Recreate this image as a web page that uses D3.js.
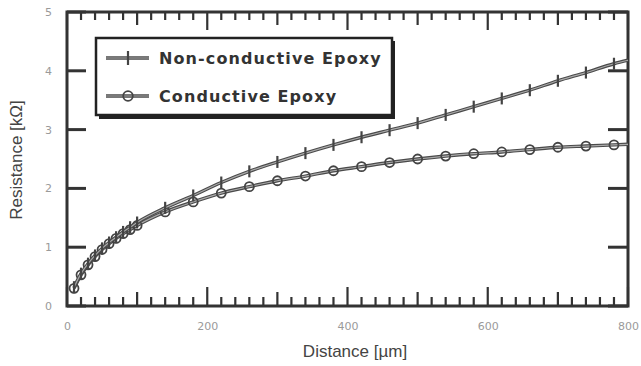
<!DOCTYPE html>
<html>
<head>
<meta charset="utf-8">
<script src="https://cdn.jsdelivr.net/npm/d3@7/dist/d3.min.js"></script>
</head>
<body style="margin:0">
<svg id="chart" width="641" height="366"></svg>
<script>
// ---- data ----
const distances = [10, 20, 30, 40, 50, 60, 70, 80, 90, 100, 140, 180, 220, 260, 300, 340, 380, 420, 460, 500, 540, 580, 620, 660, 700, 740, 780, 800];
const nonConductive = [0.32, 0.55, 0.72, 0.86, 0.98, 1.08, 1.17, 1.26, 1.34, 1.42, 1.67, 1.88, 2.10, 2.29, 2.45, 2.60, 2.74, 2.87, 2.99, 3.11, 3.25, 3.39, 3.53, 3.67, 3.83, 3.97, 4.12, 4.18];
const conductive = [0.30, 0.53, 0.70, 0.84, 0.96, 1.06, 1.15, 1.23, 1.30, 1.37, 1.60, 1.77, 1.92, 2.03, 2.13, 2.21, 2.30, 2.37, 2.44, 2.50, 2.55, 2.59, 2.62, 2.66, 2.70, 2.72, 2.74, 2.75];
const seriesNames = ["Non-conductive Epoxy", "Conductive Epoxy"];
const xTickLabels = [0, 200, 400, 600, 800];
const yTickLabels = [0, 1, 2, 3, 4, 5];
const xMinorTicks = d3.range(0, 801, 20);
const xTitle = "Distance [\u00b5m]";
const yTitle = "Resistance [k\u03a9]";

// ---- layout ----
const svg = d3.select("#chart");
const L = 67, R = 628, T = 12, B = 306;
const x = d3.scaleLinear().domain([0, 800]).range([L, R]);
const y = d3.scaleLinear().domain([0, 5]).range([B, T]);
const labelCol = "#9a9a9a";

// axes frame and inward ticks
const axes = svg.append("g");
const tl = v => (v % 200 === 0 ? 19 : (v % 100 === 0 ? 14 : 9));
axes.selectAll(null).data(xMinorTicks).enter().append("line")
  .attr("x1", d => x(d)).attr("x2", d => x(d))
  .attr("y1", B).attr("y2", d => B - tl(d))
  .attr("stroke", "#333").attr("stroke-width", 2.2);
axes.selectAll(null).data(xMinorTicks).enter().append("line")
  .attr("x1", d => x(d)).attr("x2", d => x(d))
  .attr("y1", T).attr("y2", d => T + tl(d) - 1)
  .attr("stroke", "#333").attr("stroke-width", 2.2);
axes.selectAll(null).data(yTickLabels).enter().append("line")
  .attr("x1", L).attr("x2", L + 19)
  .attr("y1", d => y(d)).attr("y2", d => y(d))
  .attr("stroke", "#333").attr("stroke-width", 3);
axes.selectAll(null).data(yTickLabels).enter().append("line")
  .attr("x1", R).attr("x2", R - 20)
  .attr("y1", d => y(d)).attr("y2", d => y(d))
  .attr("stroke", "#333").attr("stroke-width", 3);
axes.append("rect").attr("x", L).attr("y", T).attr("width", R - L).attr("height", B - T)
  .attr("fill", "none").attr("stroke", "#333").attr("stroke-width", 3);

// tick labels
const gxl = svg.append("g").attr("transform", `translate(0,${B + 13})`)
  .call(d3.axisBottom(x).tickValues(xTickLabels).tickSize(0).tickFormat(d3.format("d")));
gxl.select(".domain").remove();
gxl.selectAll("text").attr("fill", labelCol).attr("font-family", "DejaVu Sans").attr("font-size", 11);

const gyl = svg.append("g").attr("transform", `translate(${L - 12},0)`)
  .call(d3.axisLeft(y).tickValues(yTickLabels).tickSize(0).tickFormat(d3.format("d")));
gyl.select(".domain").remove();
gyl.selectAll("text").attr("fill", labelCol).attr("font-family", "DejaVu Sans").attr("font-size", 11);

// axis titles
svg.append("text").attr("x", 355).attr("y", 357).attr("text-anchor", "middle")
  .attr("font-family", "Liberation Sans, Arial, sans-serif").attr("font-size", 17)
  .attr("fill", "#444").text(xTitle);
svg.append("text").attr("transform", `translate(22,160) rotate(-90)`).attr("text-anchor", "middle")
  .attr("font-family", "Liberation Sans, Arial, sans-serif").attr("font-size", 17)
  .attr("fill", "#444").text(yTitle);

// series
const plot = svg.append("g");
const ptsNC = distances.map((d, i) => [d, nonConductive[i]]);
const ptsC = distances.map((d, i) => [d, conductive[i]]);
const lineGen = d3.line().x(d => x(d[0])).y(d => y(d[1])).curve(d3.curveMonotoneX);

function drawSeries(pts, kind) {
  plot.append("path").attr("d", lineGen(pts)).attr("fill", "none").attr("stroke", "#4a4a4a").attr("stroke-width", 3.4);
  plot.append("path").attr("d", lineGen(pts)).attr("fill", "none").attr("stroke", "#aaaaaa").attr("stroke-width", 1.2);
  const m = pts.filter(p => p[0] < 800);
  if (kind === "plus") {
    plot.selectAll(null).data(m).enter().append("line")
      .attr("x1", d => x(d[0])).attr("x2", d => x(d[0]))
      .attr("y1", d => y(d[1]) - 6).attr("y2", d => y(d[1]) + 6)
      .attr("stroke", "#444").attr("stroke-width", 2.2);
  } else {
    plot.selectAll(null).data(m).enter().append("circle")
      .attr("cx", d => x(d[0])).attr("cy", d => y(d[1])).attr("r", 4.5)
      .attr("fill", "none").attr("stroke", "#444").attr("stroke-width", 1.8);
  }
}
drawSeries(ptsC, "circle");
drawSeries(ptsNC, "plus");

// legend
const lg = svg.append("g");
lg.append("rect").attr("x", 99).attr("y", 41).attr("width", 296).attr("height", 78).attr("fill", "#222");
lg.append("rect").attr("x", 96).attr("y", 38).attr("width", 296).attr("height", 77)
  .attr("fill", "#fff").attr("stroke", "#222").attr("stroke-width", 2.5);
const rows = [{ y: 58, kind: "plus" }, { y: 96, kind: "circle" }];
rows.forEach((r, i) => {
  lg.append("line").attr("x1", 106).attr("x2", 149).attr("y1", r.y).attr("y2", r.y)
    .attr("stroke", "#4a4a4a").attr("stroke-width", 3.4);
  lg.append("line").attr("x1", 106).attr("x2", 149).attr("y1", r.y).attr("y2", r.y)
    .attr("stroke", "#aaaaaa").attr("stroke-width", 1.2);
  if (r.kind === "plus") {
    lg.append("line").attr("x1", 128).attr("x2", 128).attr("y1", r.y - 7).attr("y2", r.y + 7)
      .attr("stroke", "#444").attr("stroke-width", 2.2);
  } else {
    lg.append("circle").attr("cx", 128).attr("cy", r.y).attr("r", 4.8)
      .attr("fill", "none").attr("stroke", "#444").attr("stroke-width", 1.8);
  }
  lg.append("text").attr("x", 159).attr("y", r.y + 6)
    .attr("font-family", "DejaVu Sans, sans-serif").attr("font-weight", "bold").attr("font-size", 16)
    .attr("letter-spacing", 1.1)
    .attr("fill", "#333").text(seriesNames[i]);
});
</script>
</body>
</html>
